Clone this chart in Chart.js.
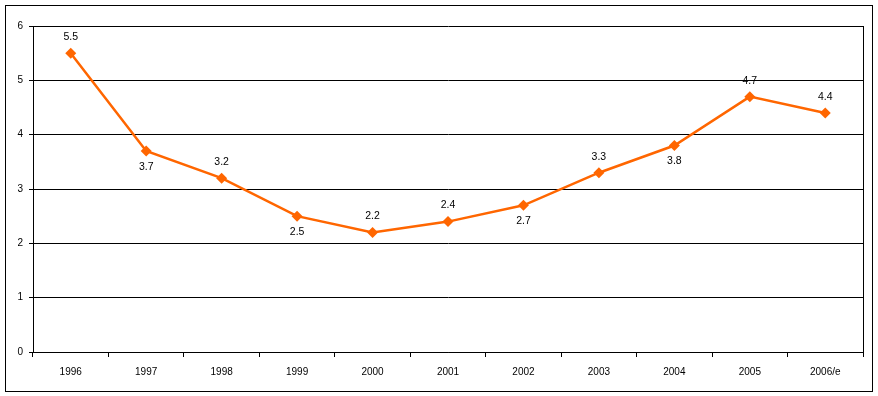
<!DOCTYPE html>
<html>
<head>
<meta charset="utf-8">
<script src="https://cdn.jsdelivr.net/npm/chart.js@4"></script>
<style>
    html, body { margin: 0; padding: 0; background: #fff; }
    #wrap { width: 878px; height: 396px; }
</style>
</head>
<body>
<div id="wrap"><canvas id="myChart" width="878" height="396"></canvas></div>
<script>
const years = ['1996', '1997', '1998', '1999', '2000', '2001', '2002', '2003', '2004', '2005', '2006/e'];
const values = [5.5, 3.7, 3.2, 2.5, 2.2, 2.4, 2.7, 3.3, 3.8, 4.7, 4.4];
const labelBelow = [false, true, false, true, false, false, true, false, true, false, false];
const yTicks = [0, 1, 2, 3, 4, 5, 6];

const fontName = "'Liberation Sans', Arial, sans-serif";


// outer frame, plot frame and value labels
const framePlugin = {
    id: 'frame',
    beforeDraw(chart) {
        const ctx = chart.ctx;
        ctx.save();
        ctx.fillStyle = '#fff';
        ctx.fillRect(0, 0, chart.width, chart.height);
        ctx.restore();
    },
    afterDatasetsDraw(chart) {
        const ctx = chart.ctx;
        const a = chart.chartArea;
        ctx.save();
        ctx.strokeStyle = '#000';
        ctx.lineWidth = 1;
        ctx.strokeRect(5.5, 5.5, 867, 386);
        ctx.beginPath();
        ctx.moveTo(Math.round(a.right) + 0.5, a.top);
        ctx.lineTo(Math.round(a.right) + 0.5, a.bottom);
        ctx.stroke();

        ctx.fillStyle = '#000';
        ctx.font = '10.5px ' + fontName;
        ctx.textAlign = 'center';
        ctx.textBaseline = 'middle';
        const meta = chart.getDatasetMeta(0);
        meta.data.forEach((pt, i) => {
            const dy = labelBelow[i] ? 16 : -16;
            ctx.fillText(values[i].toFixed(1), pt.x, pt.y + dy);
        });
        ctx.restore();
    }
};


function createChart() {
    const ctx = document.getElementById('myChart').getContext('2d');
    new Chart(ctx, {
        type: 'line',
        data: {
            labels: years,
            datasets: [{
                data: values,
                borderColor: '#ff6600',
                backgroundColor: '#ff6600',
                borderWidth: 2.5,
                pointStyle: 'rectRot',
                pointRadius: 5.5,
                pointBorderWidth: 0,
                tension: 0
            }]
        },
        options: {
            responsive: false,
            animation: false,
            layout: { padding: { left: 0, top: 26, right: 15, bottom: 0 } },
            plugins: { legend: { display: false }, tooltip: { enabled: false } },
            scales: {
                x: {
                    offset: true,
                    grid: {
                        offset: true,
                        drawOnChartArea: false,
                        drawTicks: true,
                        tickLength: 5,
                        color: '#000'
                    },
                    border: { color: '#000' },
                    ticks: {
                        color: '#000',
                        font: { size: 10, family: fontName },
                        padding: 9,
                        maxRotation: 0,
                        autoSkip: false
                    },
                    afterFit: scale => { scale.height = 44; }
                },
                y: {
                    min: 0,
                    max: 6,
                    afterBuildTicks: scale => { scale.ticks = yTicks.map(v => ({ value: v })); },
                    grid: {
                        color: '#000',
                        tickLength: 4
                    },
                    border: { color: '#000' },
                    ticks: {
                        color: '#000',
                        font: { size: 10, family: fontName },
                        padding: 6
                    },
                    afterFit: scale => { scale.width = 33; }
                }
            }
        },
        plugins: [framePlugin]
    });
}

createChart();
</script>
</body>
</html>
